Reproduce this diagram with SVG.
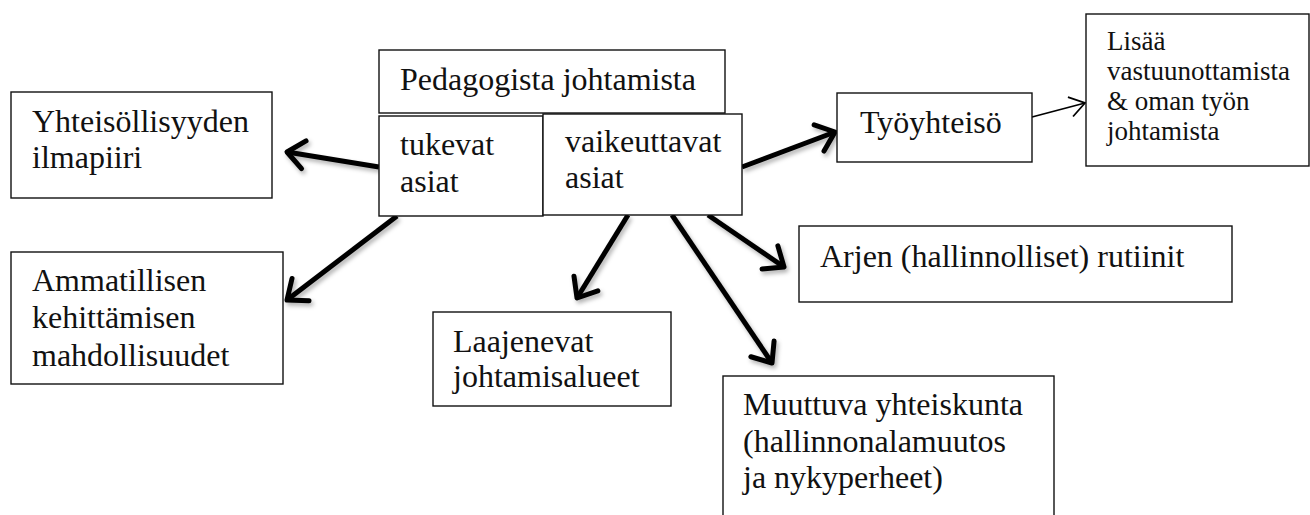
<svg xmlns="http://www.w3.org/2000/svg" width="1310" height="515" viewBox="0 0 1310 515">
<style>
.box{fill:#fff;stroke:#111;stroke-width:1.4}
.t{font-size:32px;fill:#111}
.s{font-size:27px;fill:#111}
.thick{stroke:#000;stroke-width:5;fill:none;marker-end:url(#ah)}
.thin{stroke:#000;stroke-width:1.8;fill:none;marker-end:url(#ahs)}
</style>
<defs>
<marker id="ah" markerUnits="userSpaceOnUse" viewBox="-25 -20 30 40" refX="0" refY="0" markerWidth="30" markerHeight="40" orient="auto" overflow="visible">
<path d="M-17,-14 L0,0 L-17,14" fill="none" stroke="#000" stroke-width="5" stroke-linecap="round" stroke-linejoin="round"/>
</marker>
<marker id="ahs" markerUnits="userSpaceOnUse" viewBox="-20 -15 25 30" refX="0" refY="0" markerWidth="25" markerHeight="30" orient="auto" overflow="visible">
<path d="M-15,-10 L0,0 L-15,10" fill="none" stroke="#000" stroke-width="1.8" stroke-linejoin="miter"/>
</marker>
<filter id="sh" x="-20%" y="-20%" width="140%" height="140%">
<feDropShadow dx="2" dy="3" stdDeviation="2" flood-color="#000" flood-opacity="0.3"/>
</filter>
</defs>
<g id="connectors">
<g filter="url(#sh)">
<line class="thick" x1="379" y1="167" x2="287" y2="152"/>
<line class="thick" x1="397" y1="216" x2="287" y2="300"/>
<line class="thick" x1="628" y1="215" x2="577" y2="298"/>
<line class="thick" x1="672" y1="215" x2="772" y2="363"/>
<line class="thick" x1="708" y1="215" x2="784" y2="267"/>
<line class="thick" x1="742" y1="167" x2="835" y2="132"/>
</g>
<line class="thin" x1="1032" y1="117" x2="1085" y2="103"/>
</g>
<g font-family="'Times New Roman', Times, 'Liberation Serif', serif">
<g id="pedagogista">
<rect class="box" x="379" y="50" width="346" height="63"/>
<text class="t" x="400" y="90">Pedagogista johtamista</text>
</g>
<g id="tukevat">
<rect class="box" x="379" y="116" width="164" height="100"/>
<text class="t" x="400" y="155">tukevat</text>
<text class="t" x="400" y="192">asiat</text>
</g>
<g id="vaikeuttavat">
<rect class="box" x="543" y="114" width="199" height="101"/>
<text class="t" x="565" y="152">vaikeuttavat</text>
<text class="t" x="565" y="188">asiat</text>
</g>
<g id="tyoyhteiso">
<rect class="box" x="837" y="93" width="195" height="69"/>
<text class="t" x="860" y="133">Työyhteisö</text>
</g>
<g id="lisaa">
<rect class="box" x="1086" y="14" width="223" height="152"/>
<text class="s" x="1107" y="50">Lisää</text>
<text class="s" x="1107" y="80">vastuunottamista</text>
<text class="s" x="1107" y="110">&amp; oman työn</text>
<text class="s" x="1107" y="140">johtamista</text>
</g>
<g id="yhteisollisyys">
<rect class="box" x="11" y="92" width="261" height="106"/>
<text class="t" x="32" y="132">Yhteisöllisyyden</text>
<text class="t" x="32" y="168">ilmapiiri</text>
</g>
<g id="ammatillisen">
<rect class="box" x="11" y="252" width="272" height="132"/>
<text class="t" x="32" y="291">Ammatillisen</text>
<text class="t" x="32" y="328">kehittämisen</text>
<text class="t" x="32" y="366">mahdollisuudet</text>
</g>
<g id="laajenevat">
<rect class="box" x="433" y="312" width="238" height="94"/>
<text class="t" x="453" y="352">Laajenevat</text>
<text class="t" x="453" y="387">johtamisalueet</text>
</g>
<g id="arjen">
<rect class="box" x="799" y="226" width="433" height="76"/>
<text class="t" x="820" y="267">Arjen (hallinnolliset) rutiinit</text>
</g>
<g id="muuttuva">
<rect class="box" x="723" y="376" width="331" height="150"/>
<text class="t" x="743" y="415">Muuttuva yhteiskunta</text>
<text class="t" x="743" y="452">(hallinnonalamuutos</text>
<text class="t" x="743" y="488">ja nykyperheet)</text>
</g>
</g>
</svg>
